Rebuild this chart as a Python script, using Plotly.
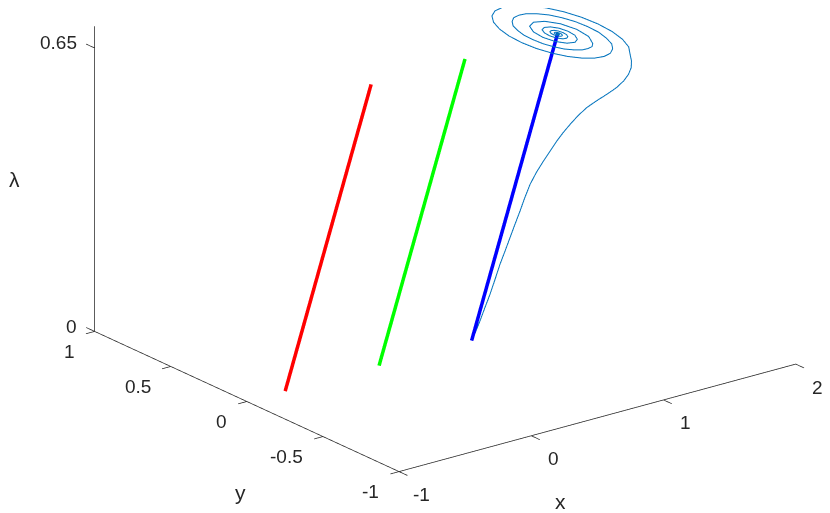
import plotly.graph_objects as go

# ---------------- data ----------------
x_range = [-1, 2]
y_range = [-1, 1]
lam_range = [0, 0.7]
x_ticks = [-1, 0, 1, 2]
y_ticks = [-1, -0.5, 0, 0.5, 1]
lam_ticks = [0, 0.65]
x_ticklabels = ["-1", "0", "1", "2"]
y_ticklabels = ["-1", "-0.5", "0", "0.5", "1"]
lam_ticklabels = ["0", "0.65"]

# equilibrium branches (y = 0)
lam_branch = [0.0, 0.65]
y_branch = [0.0, 0.0]
x_red = [-0.71, -0.06]
x_green = [0.0, 0.65]
x_blue = [0.70, 1.35]

# trajectory: slow rise
rise_x = [0.705, 0.732, 0.762, 0.800, 0.838, 0.876, 0.914, 0.952, 0.990, 1.028,
          1.066, 1.104, 1.142, 1.191, 1.243, 1.294, 1.345, 1.392, 1.446, 1.506,
          1.572, 1.643, 1.724, 1.795, 1.850, 1.886, 1.907, 1.909]
rise_lam = [0.000, 0.019, 0.039, 0.067, 0.094, 0.125, 0.157, 0.184, 0.212, 0.240,
            0.267, 0.296, 0.322, 0.346, 0.367, 0.386, 0.405, 0.420, 0.435, 0.450,
            0.463, 0.472, 0.481, 0.490, 0.501, 0.513, 0.527, 0.542]
rise_y = [0.0] * len(rise_x)

# trajectory: damped spiral at lambda = 0.65
spiral_x = [1.490, 1.554, 1.603, 1.634, 1.645, 1.636, 1.608, 1.563, 1.504, 1.436, 1.363, 1.290,
            1.223, 1.166, 1.124, 1.097, 1.089, 1.098, 1.125, 1.165, 1.217, 1.277, 1.339, 1.400,
            1.457, 1.505, 1.539, 1.563, 1.568, 1.561, 1.538, 1.505, 1.460, 1.411, 1.359, 1.308,
            1.262, 1.222, 1.195, 1.176, 1.173, 1.179, 1.199, 1.226, 1.262, 1.301, 1.343, 1.383,
            1.418, 1.471, 1.488, 1.468, 1.419, 1.356,
            1.296, 1.256, 1.244, 1.261, 1.299, 1.346,
            1.388, 1.418, 1.427, 1.416, 1.388, 1.353,
            1.320, 1.298, 1.292, 1.302, 1.323, 1.348,
            1.370, 1.385, 1.389, 1.383, 1.369, 1.352,
            1.335, 1.324, 1.322, 1.327, 1.337, 1.349,
            1.359, 1.366, 1.368, 1.365, 1.359, 1.351,
            1.343, 1.339, 1.338, 1.340, 1.345, 1.350,
            1.354, 1.356, 1.357, 1.356, 1.353, 1.350,
            1.348, 1.346, 1.346, 1.346, 1.348, 1.350,
            1.350]
spiral_y = [-0.354, -0.290, -0.207, -0.112, -0.010, 0.091, 0.184, 0.263, 0.323, 0.360, 0.372, 0.359,
            0.321, 0.261, 0.186, 0.099, 0.009, -0.080, -0.161, -0.228, -0.278, -0.308, -0.316, -0.303,
            -0.269, -0.221, -0.155, -0.084, -0.007, 0.067, 0.134, 0.191, 0.231, 0.257, 0.262, 0.252,
            0.222, 0.181, 0.127, 0.068, 0.006, -0.054, -0.107, -0.153, -0.183, -0.204, -0.206, -0.198,
            -0.172, -0.099, -0.005, 0.084, 0.144, 0.163,
            0.137, 0.077, 0.004, -0.064, -0.107, -0.118,
            -0.097, -0.055, -0.003, 0.047, 0.080, 0.090,
            0.076, 0.042, 0.002, -0.034, -0.057, -0.061,
            -0.050, -0.028, -0.001, 0.024, 0.041, 0.045,
            0.038, 0.021, 0.001, -0.017, -0.028, -0.030,
            -0.024, -0.013, -0.001, 0.011, 0.018, 0.020,
            0.017, 0.009, 0.000, -0.007, -0.011, -0.012,
            -0.009, -0.005, 0.000, 0.004, 0.007, 0.008,
            0.006, 0.003, 0.000, -0.003, -0.004, -0.004,
            0.000]
spiral_lam = [0.65] * len(spiral_x)

traj_x = rise_x + spiral_x
traj_y = rise_y + spiral_y
traj_lam = rise_lam + spiral_lam

# ---------------- styling ----------------
AX = "rgb(38,38,38)"
FONT = "Liberation Sans, Arial, Helvetica, sans-serif"
TICK_FS = 19
LABEL_FS = 21

# scene box slightly larger than the drawn axes so the axis lines/ticks are not clipped
pad_x, pad_y, pad_z = (0.08, 0.02), 0.08, 0.005
scene_x = [x_range[0] - pad_x[0], x_range[1] + pad_x[1]]
scene_y = [y_range[0] - pad_y, y_range[1] + pad_y]
scene_z = [lam_range[0] - pad_z, lam_range[1] + pad_z]
# on-screen size per data unit (matches the reference projection)
sx, sy, sz = 0.6497, 0.975, 1.8171

fig = go.Figure()

for xs, col in [(x_red, "rgb(255,0,0)"), (x_green, "rgb(0,255,0)"), (x_blue, "rgb(0,0,255)")]:
    fig.add_trace(go.Scatter3d(x=xs, y=y_branch, z=lam_branch, mode="lines",
                               line=dict(color=col, width=7), hoverinfo="skip", showlegend=False))

fig.add_trace(go.Scatter3d(x=traj_x, y=traj_y, z=traj_lam, mode="lines",
                           line=dict(color="rgb(0,114,189)", width=2),
                           hoverinfo="skip", showlegend=False))

# axis lines and ticks (MATLAB-like three visible axes)
x0, x1 = x_range
y0, y1 = y_range
z0, z1 = lam_range
ax_x, ax_y, ax_z = [], [], []
def seg(p, q):
    ax_x.extend([p[0], q[0], None]); ax_y.extend([p[1], q[1], None]); ax_z.extend([p[2], q[2], None])
seg((x0, y0, z0), (x1, y0, z0))
seg((x0, y0, z0), (x0, y1, z0))
seg((x0, y1, z0), (x0, y1, z1))
for t in x_ticks:
    seg((t, y0, z0), (t, y0 - 0.055, z0))
for t in y_ticks:
    seg((x0, t, z0), (x0 - 0.066, t, z0))
for t in lam_ticks:
    seg((x0, y1, t), (x0, y1 + 0.055, t))
fig.add_trace(go.Scatter3d(x=ax_x, y=ax_y, z=ax_z, mode="lines",
                           line=dict(color="rgb(38,38,38)", width=1.5), hoverinfo="skip", showlegend=False))

ann = []
for t, s in zip(x_ticks, x_ticklabels):
    ann.append(dict(x=t, y=y0, z=z0, text=s, showarrow=False, xanchor="center", yanchor="middle",
                    xshift=22, yshift=-23, font=dict(family=FONT, size=TICK_FS, color=AX)))
for t, s in zip(y_ticks, y_ticklabels):
    ann.append(dict(x=x0, y=t, z=z0, text=s, showarrow=False, xanchor="right", yanchor="middle",
                    xshift=-18, yshift=-20, font=dict(family=FONT, size=TICK_FS, color=AX)))
for t, s in zip(lam_ticks, lam_ticklabels):
    ann.append(dict(x=x0, y=y1, z=t, text=s, showarrow=False, xanchor="right", yanchor="middle",
                    xshift=-16, yshift=5, font=dict(family=FONT, size=TICK_FS, color=AX)))
ann.append(dict(x=0.5, y=y0, z=z0, text="x", showarrow=False, xanchor="center", yanchor="middle",
                xshift=-37, yshift=-84, font=dict(family=FONT, size=LABEL_FS, color=AX)))
ann.append(dict(x=x0, y=0, z=z0, text="y", showarrow=False, xanchor="center", yanchor="middle",
                xshift=-6, yshift=-91, font=dict(family=FONT, size=LABEL_FS, color=AX)))
ann.append(dict(x=x0, y=y1, z=0.35, text="λ", showarrow=False, xanchor="center", yanchor="middle",
                xshift=-80, yshift=-1, font=dict(family=FONT, size=LABEL_FS, color=AX)))

# camera: view direction (azimuth ~232.5 deg, elevation ~20.7 deg), orthographic
r = 3.0
d = (-0.5694, -0.7422, 0.3532)
c = (-0.0895, 0.0, -0.264)
eye = dict(x=c[0] + d[0] * r, y=c[1] + d[1] * r, z=c[2] + d[2] * r)

hidden = dict(visible=False, showgrid=False, zeroline=False, showbackground=False, showspikes=False)
fig.update_layout(
    width=830, height=513,
    margin=dict(l=0, r=0, t=0, b=0),
    paper_bgcolor="white", plot_bgcolor="white",
    showlegend=False, hovermode=False,
    scene=dict(
        domain=dict(x=[0, 1], y=[0, 1]),
        xaxis=dict(range=scene_x, **hidden),
        yaxis=dict(range=scene_y, **hidden),
        zaxis=dict(range=scene_z, **hidden),
        aspectmode="manual",
        aspectratio=dict(x=sx * (scene_x[1] - scene_x[0]),
                         y=sy * (scene_y[1] - scene_y[0]),
                         z=sz * (scene_z[1] - scene_z[0])),
        camera=dict(eye=eye, up=dict(x=0, y=0, z=1), center=dict(x=c[0], y=c[1], z=c[2]),
                    projection=dict(type="orthographic")),
        bgcolor="white",
        annotations=ann,
    ),
)

fig.write_html("out.html")
